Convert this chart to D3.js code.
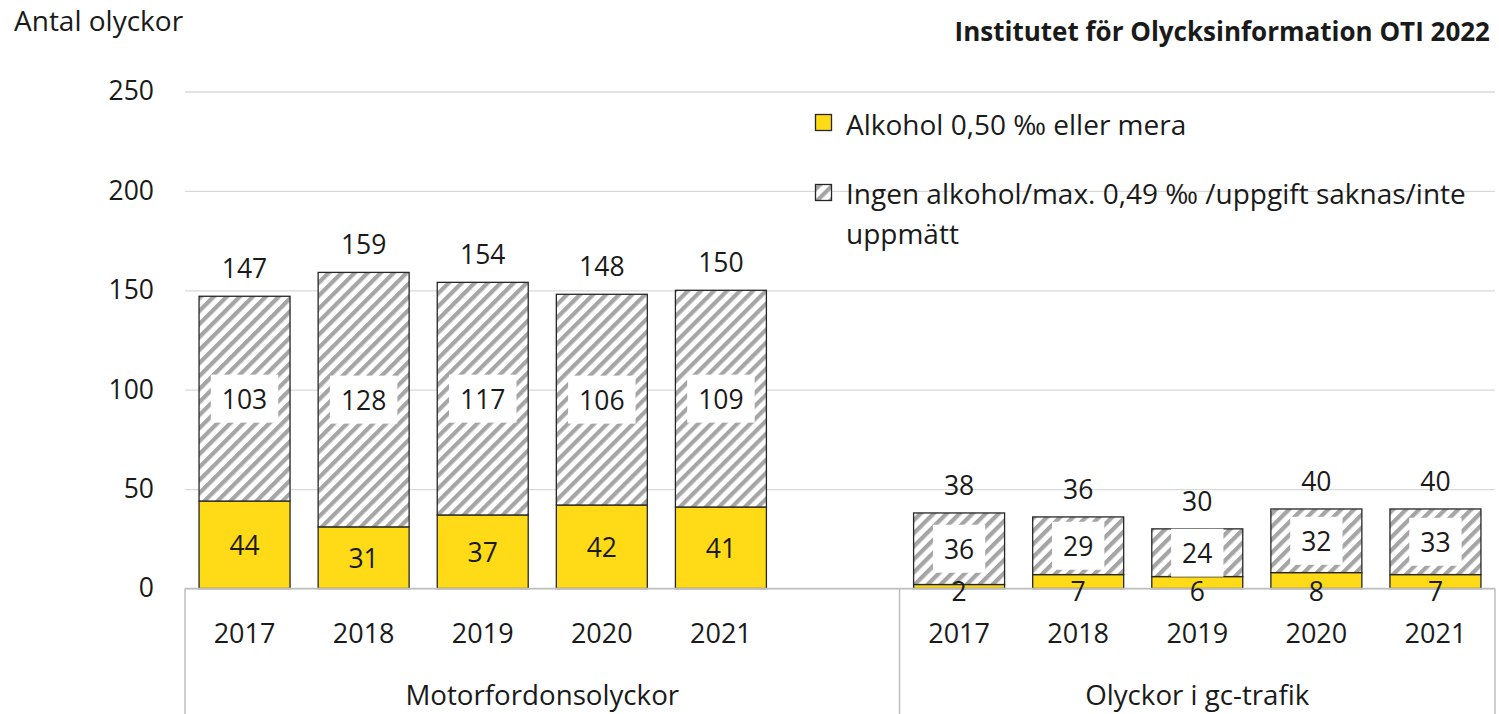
<!DOCTYPE html>
<html>
<head>
<meta charset="utf-8">
<script src="https://cdn.jsdelivr.net/npm/d3@7/dist/d3.min.js"></script>
<style>
  html, body { margin: 0; padding: 0; background: #fff; }
  svg { display: block; }
  text { font-family: "Open Sans", "Noto Sans", sans-serif; fill: #1a1a1a; }
</style>
</head>
<body>
<script>
// ---- data ----
const years = ["2017", "2018", "2019", "2020", "2021"];
const groups = ["Motorfordonsolyckor", "Olyckor i gc-trafik"];
const alkoholMotor = [44, 31, 37, 42, 41];
const ingenMotor = [103, 128, 117, 106, 109];
const alkoholGc = [2, 7, 6, 8, 7];
const ingenGc = [36, 29, 24, 32, 33];
const yTicks = [0, 50, 100, 150, 200, 250];
const seriesNames = ["Alkohol 0,50 \u2030 eller mera", "Ingen alkohol/max. 0,49 \u2030 /uppgift saknas/inte", "uppmätt"];
const yTitle = "Antal olyckor";
const source = "Institutet för Olycksinformation OTI 2022";

// ---- build rows ----
const rows = [];
years.forEach((yr, i) => rows.push({ key: "m" + yr, year: yr, group: 0, alk: alkoholMotor[i], ingen: ingenMotor[i] }));
const gapKey = "gap";
years.forEach((yr, i) => rows.push({ key: "g" + yr, year: yr, group: 1, alk: alkoholGc[i], ingen: ingenGc[i] }));
const slots = [...rows.filter(r => r.group === 0).map(r => r.key), gapKey, ...rows.filter(r => r.group === 1).map(r => r.key)];

const W = 1499, H = 714;
const mLeft = 185, mRight = 1495, mTop = 91.5, mBottom = 588.5;

const svg = d3.select("body").append("svg").attr("width", W).attr("height", H);

const defs = svg.append("defs");
const pat = defs.append("pattern").attr("id", "hatch").attr("patternUnits", "userSpaceOnUse")
  .attr("width", 9.2).attr("height", 9.2).attr("patternTransform", "rotate(45)");
pat.append("rect").attr("width", 9.2).attr("height", 9.2).attr("fill", "#fff");
pat.append("line").attr("x1", 0).attr("y1", 0).attr("x2", 0).attr("y2", 9.2)
  .attr("stroke", "#a5a5a5").attr("stroke-width", 8.4);

const x = d3.scaleBand().domain(slots).range([mLeft, mRight]).paddingInner(0.236).paddingOuter(0.118);
const y = d3.scaleLinear().domain([0, 250]).range([mBottom, mTop]);

// gridlines + y labels
const yAxis = d3.axisLeft(y).tickValues(yTicks).tickSizeInner(-(mRight - mLeft)).tickSizeOuter(0).tickPadding(31);
const ga = svg.append("g").attr("transform", `translate(${mLeft},0)`).call(yAxis);
ga.select(".domain").remove();
ga.selectAll(".tick line").attr("stroke", "#d9d9d9").attr("stroke-width", 1.3);
ga.selectAll(".tick text").attr("font-size", 26.5).style("font-family", '"Open Sans", sans-serif').attr("fill", "#1a1a1a");

const yellow = "#FFDA16";

// bars
const bars = svg.append("g");
bars.selectAll("rect.alk").data(rows).join("rect").attr("class", "alk")
  .attr("x", d => x(d.key)).attr("width", x.bandwidth())
  .attr("y", d => y(d.alk)).attr("height", d => y(0) - y(d.alk))
  .attr("fill", yellow).attr("stroke", "#262626").attr("stroke-width", 1.3);
bars.selectAll("rect.ing").data(rows).join("rect").attr("class", "ing")
  .attr("x", d => x(d.key)).attr("width", x.bandwidth())
  .attr("y", d => y(d.alk + d.ingen)).attr("height", d => y(d.alk) - y(d.alk + d.ingen))
  .attr("fill", "url(#hatch)").attr("stroke", "#262626").attr("stroke-width", 1.3);

// category axis
const ax = svg.append("g");
ax.append("line").attr("x1", mLeft).attr("x2", mRight).attr("y1", y(0)).attr("y2", y(0))
  .attr("stroke", "#bfbfbf").attr("stroke-width", 1.5);
const sepXs = [mLeft, x(gapKey) + x.bandwidth() + x.step() * x.paddingInner() / 2, mRight];
ax.selectAll("line.sep").data(sepXs).join("line").attr("class", "sep")
  .attr("x1", d => d).attr("x2", d => d).attr("y1", y(0)).attr("y2", H)
  .attr("stroke", "#bfbfbf").attr("stroke-width", 1.5);
ax.selectAll("text.yr").data(rows).join("text").attr("class", "yr")
  .attr("x", d => x(d.key) + x.bandwidth() / 2).attr("y", 632)
  .attr("text-anchor", "middle").attr("dominant-baseline", "central").attr("font-size", 27)
  .text(d => d.year);
ax.selectAll("text.grp").data(groups).join("text").attr("class", "grp")
  .attr("x", (d, i) => (sepXs[i] + sepXs[i + 1]) / 2).attr("y", 694)
  .attr("text-anchor", "middle").attr("dominant-baseline", "central").attr("font-size", 27.7)
  .text(d => d);

// labels
const lab = svg.append("g");
lab.selectAll("text.alk").data(rows).join("text").attr("class", "alk")
  .attr("x", d => x(d.key) + x.bandwidth() / 2)
  .attr("y", d => (y(0) - y(d.alk)) < 30 ? y(0) + 2 : y(d.alk / 2))
  .attr("text-anchor", "middle").attr("dominant-baseline", "central").attr("font-size", 26.5)
  .text(d => d.alk);
const ing = lab.selectAll("g.ing").data(rows).join("g").attr("class", "ing")
  .attr("transform", d => `translate(${x(d.key) + x.bandwidth() / 2},${y(d.alk + d.ingen / 2)})`);
ing.append("rect").attr("fill", "#fff");
ing.append("text").attr("text-anchor", "middle").attr("dominant-baseline", "central").attr("font-size", 26.5)
  .text(d => d.ingen);
ing.each(function () {
  const g = d3.select(this);
  const w = g.select("text").node().getComputedTextLength() + 22;
  g.select("rect").attr("x", -w / 2).attr("width", w).attr("y", -24).attr("height", 48);
});
lab.selectAll("text.tot").data(rows).join("text").attr("class", "tot")
  .attr("x", d => x(d.key) + x.bandwidth() / 2).attr("y", d => y(d.alk + d.ingen) - 28)
  .attr("text-anchor", "middle").attr("dominant-baseline", "central").attr("font-size", 26.5)
  .text(d => d.alk + d.ingen);

// titles
svg.append("text").attr("x", 14).attr("y", 20).attr("dominant-baseline", "central").attr("font-size", 28)
  .text(yTitle);
svg.append("text").attr("x", 1490).attr("y", 31).attr("text-anchor", "end").attr("dominant-baseline", "central")
  .attr("font-size", 26).attr("font-weight", "bold").text(source);

// legend
const lg = svg.append("g");
lg.append("rect").attr("x", 815.5).attr("y", 114.5).attr("width", 16).attr("height", 16)
  .attr("fill", yellow).attr("stroke", "#262626").attr("stroke-width", 1.3);
lg.append("rect").attr("x", 815.5).attr("y", 184.5).attr("width", 16).attr("height", 16)
  .attr("fill", "url(#hatch)").attr("stroke", "#262626").attr("stroke-width", 1.3);
lg.append("text").attr("x", 846).attr("y", 124).attr("dominant-baseline", "central").attr("font-size", 28)
  .text(seriesNames[0]);
lg.append("text").attr("x", 846).attr("y", 193).attr("dominant-baseline", "central").attr("font-size", 28)
  .text(seriesNames[1]);
lg.append("text").attr("x", 846).attr("y", 233).attr("dominant-baseline", "central").attr("font-size", 28)
  .text(seriesNames[2]);
</script>
</body>
</html>
